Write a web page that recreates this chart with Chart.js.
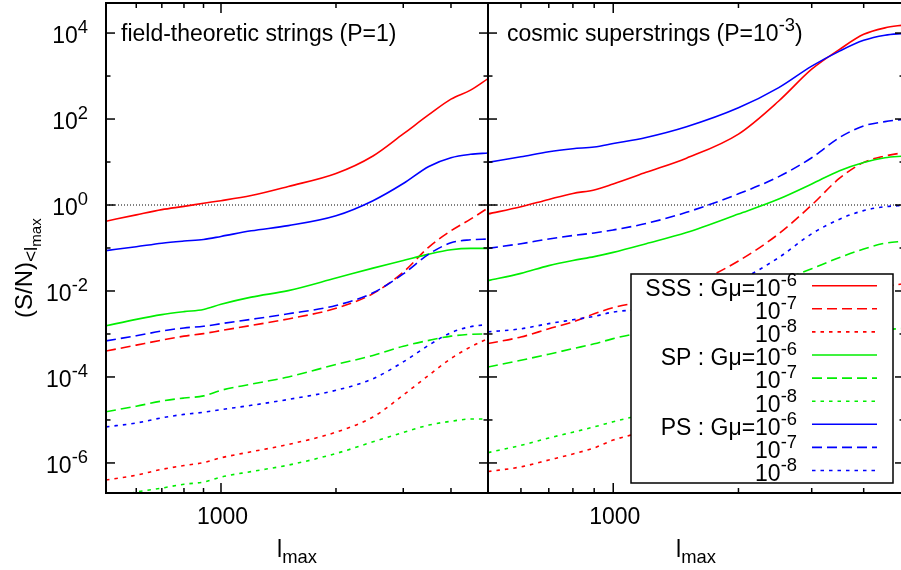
<!DOCTYPE html>
<html>
<head>
<meta charset="utf-8">
<script src="https://cdn.jsdelivr.net/npm/chart.js@4/dist/chart.umd.min.js"></script>
<style>
html, body { margin: 0; padding: 0; background: #fff; overflow: hidden; }
#wrap { position: relative; width: 901px; height: 570px; overflow: hidden; }
#wrap canvas { position: absolute; top: 0; }
</style>
</head>
<body>
<div id="wrap">
  <canvas id="left" width="490" height="570" style="left:0"></canvas>
  <canvas id="right" width="420" height="570" style="left:486px"></canvas>
</div>
<script>
// multipole cut-off l_max
ell = [500, 600, 700, 800, 900, 1000, 1200, 1500, 2000, 2500, 3000, 3500, 4000, 4500, 5000]

// field-theoretic strings (P=1)
ftSSS6 = [0.42, 0.59, 0.78, 0.93, 1.1, 1.26, 1.66, 2.7, 5.4, 13.8, 45, 126, 290, 470, 870]
ftSSS7 = [4.0e-4, 5.5e-4, 7.2e-4, 8.9e-4, 1.02e-3, 1.2e-3, 1.58e-3, 2.24e-3, 3.98e-3, 8.7e-3, 2.75e-2, 0.105, 0.251, 0.468, 0.851]
ftSSS8 = [4.0e-7, 5.2e-7, 7.1e-7, 8.7e-7, 1.02e-6, 1.32e-6, 1.82e-6, 2.69e-6, 5.2e-6, 1.17e-5, 3.8e-5, 1.1e-4, 2.69e-4, 5.0e-4, 7.8e-4]
ftSP6 = [1.55e-3, 2.19e-3, 2.82e-3, 3.31e-3, 3.72e-3, 4.9e-3, 7.2e-3, 1.02e-2, 2.0e-2, 3.4e-2, 5.1e-2, 7.2e-2, 9.1e-2, 9.8e-2, 9.8e-2]
ftSP7 = [1.55e-5, 2.09e-5, 2.75e-5, 3.24e-5, 3.63e-5, 4.9e-5, 6.8e-5, 1.0e-4, 1.95e-4, 3.16e-4, 5.2e-4, 7.1e-4, 8.9e-4, 9.8e-4, 1.0e-3]
ftSP8 = [1.4e-7, 2.1e-7, 2.6e-7, 3.2e-7, 3.6e-7, 4.7e-7, 6.3e-7, 8.9e-7, 1.66e-6, 3.1e-6, 5.1e-6, 7.6e-6, 9.3e-6, 1.05e-5, 1.05e-5]
ftPS6 = [0.087, 0.107, 0.129, 0.145, 0.158, 0.186, 0.251, 0.331, 0.562, 1.26, 3.16, 7.9, 12.6, 15.1, 16.2]
ftPS7 = [6.9e-4, 9.1e-4, 1.17e-3, 1.38e-3, 1.51e-3, 1.74e-3, 2.19e-3, 2.95e-3, 4.6e-3, 9.1e-3, 2.5e-2, 7.2e-2, 0.132, 0.155, 0.162]
ftPS8 = [6.9e-6, 8.5e-6, 1.12e-5, 1.35e-5, 1.51e-5, 1.74e-5, 2.19e-5, 3.0e-5, 4.9e-5, 9.1e-5, 2.24e-4, 5.5e-4, 1.07e-3, 1.48e-3, 1.66e-3]

// cosmic superstrings (P=10^-3)
csSSS6 = [0.62, 0.91, 1.35, 1.86, 2.24, 3.09, 5.75, 12.3, 44.7, 263, 1445, 4170, 9330, 13200, 15500]
csSSS7 = [6.0e-4, 8.5e-4, 1.32e-3, 1.91e-3, 2.95e-3, 4.1e-3, 6.0e-3, 1.23e-2, 5.0e-2, 0.214, 1.0, 4.2, 9.8, 13.8, 16.6]
csSSS8 = [6.3e-7, 8.1e-7, 1.17e-6, 1.62e-6, 2.24e-6, 3.4e-6, 5.6e-6, 1.26e-5, 6.3e-5, 4.0e-4, 1.58e-3, 4.5e-3, 8.9e-3, 1.26e-2, 1.48e-2]
csSP6 = [0.0174, 0.0257, 0.0389, 0.0513, 0.063, 0.079, 0.126, 0.229, 0.617, 1.38, 3.09, 6.3, 9.8, 12.6, 13.8]
csSP7 = [1.7e-4, 2.45e-4, 3.39e-4, 4.57e-4, 5.9e-4, 7.8e-4, 1.2e-3, 2.82e-3, 7.6e-3, 1.66e-2, 3.3e-2, 6.0e-2, 9.5e-2, 0.129, 0.145]
csSP8 = [1.74e-6, 2.57e-6, 3.8e-6, 5.2e-6, 6.9e-6, 9.1e-6, 1.41e-5, 2.82e-5, 8.9e-5, 2.51e-4, 5.6e-4, 8.9e-4, 1.12e-3, 1.26e-3, 1.35e-3]
csPS6 = [9.8, 13.2, 17.4, 20.4, 22.4, 26.9, 37.2, 66, 182, 537, 1700, 3800, 6760, 8900, 9800]
csPS7 = [0.098, 0.126, 0.162, 0.195, 0.224, 0.263, 0.372, 0.676, 1.82, 4.57, 12.6, 37.2, 69, 87, 98]
csPS8 = [1.12e-3, 1.32e-3, 1.74e-3, 2.14e-3, 2.57e-3, 3.24e-3, 3.9e-3, 6.6e-3, 1.74e-2, 6.0e-2, 0.214, 0.468, 0.741, 0.912, 0.977]

// S/N = 1 guide
unityX = [500, 5000]
unityY = [1, 1]

// legend / series names
groups = ['SSS', 'SP', 'PS']
muExps = ['-6', '-7', '-8']

// ticks
yTickValues = [1e-6, 1e-5, 1e-4, 1e-3, 1e-2, 1e-1, 1, 1e1, 1e2, 1e3, 1e4]
yTickLabels = ['-6', '', '-4', '', '-2', '', '0', '', '2', '', '4']
xMajorTicks = [1000]
xTickLabels = ['1000']
xMinorTicks = [600, 700, 800, 900, 2000, 3000, 4000]

colors = {SSS: '#ff0000', SP: '#00ee00', PS: '#0000ff'}
dashes = [[], [10, 5], [3.5, 5]]
FONT = '"Liberation Sans", Arial, Helvetica, sans-serif'
BIG = 23
SUP = 18.4

function font(px) { return px + 'px ' + FONT }

// parts: [text, size, dy]
function richWidth(ctx, parts) {
  var w = 0
  parts.forEach(p => { ctx.font = font(p[1]); w += ctx.measureText(p[0]).width })
  return w
}
function drawRich(ctx, parts, x, y, align) {
  var cx = x
  if (align === 'right') cx = x - richWidth(ctx, parts)
  if (align === 'center') cx = x - richWidth(ctx, parts) / 2
  ctx.textAlign = 'left'
  ctx.textBaseline = 'alphabetic'
  parts.forEach(p => {
    ctx.font = font(p[1])
    ctx.fillText(p[0], cx, y + p[2])
    cx += ctx.measureText(p[0]).width
  })
}
function seg(ctx, x1, y1, x2, y2) {
  ctx.beginPath(); ctx.moveTo(x1, y1); ctx.lineTo(x2, y2); ctx.stroke()
}

framePlugin = {
  id: 'frame',
  afterDraw(chart, args, opts) {
    var ctx = chart.ctx, a = chart.chartArea
    var xs = chart.scales.x, ys = chart.scales.y
    ctx.save()
    ctx.strokeStyle = '#000'
    ctx.fillStyle = '#000'
    ctx.lineWidth = 1.5
    ctx.setLineDash([])
    yTickValues.forEach((v, i) => {
      var y = ys.getPixelForValue(v)
      var len = yTickLabels[i] ? 9 : 4.5
      seg(ctx, a.left, y, a.left + len, y)
      seg(ctx, a.right, y, a.right - len, y)
    })
    xMajorTicks.forEach(v => {
      var x = xs.getPixelForValue(v)
      seg(ctx, x, a.bottom, x, a.bottom - 10)
      seg(ctx, x, a.top, x, a.top + 10)
    })
    xMinorTicks.forEach(v => {
      var x = xs.getPixelForValue(v)
      seg(ctx, x, a.bottom, x, a.bottom - 5)
      seg(ctx, x, a.top, x, a.top + 5)
    })
    ctx.lineWidth = 2
    ctx.strokeRect(a.left, a.top, a.right - a.left, a.bottom - a.top)

    // x tick labels and title
    xMajorTicks.forEach((v, i) => {
      drawRich(ctx, [[xTickLabels[i], BIG, 0]], xs.getPixelForValue(v) + 1.5, 524, 'center')
    })
    drawRich(ctx, [['l', BIG, 0], ['max', SUP, 6]], (a.left + a.right) / 2, 557, 'center')

    if (opts.side === 'left') {
      yTickValues.forEach((v, i) => {
        if (!yTickLabels[i]) return
        drawRich(ctx, [['10', BIG, 0], [yTickLabels[i], SUP, -10]], 88, ys.getPixelForValue(v) + 10.4, 'right')
      })
      ctx.save()
      ctx.translate(32, 318)
      ctx.rotate(-Math.PI / 2)
      drawRich(ctx, [['(S/N)', 24, 0], ['<l', 19, 5], ['max', 15, 9]], 0, 0, 'left')
      ctx.restore()
      drawRich(ctx, [['field-theoretic strings (P=1)', BIG, 0]], a.left + 15, 40.5, 'left')
    } else {
      drawRich(ctx, [['cosmic superstrings (P=10', BIG, 0], ['-3', SUP, -10], [')', BIG, 0]], a.left + 19, 41, 'left')
      // key box
      var bx = 145, by = 274, bw = 262, bh = 209
      ctx.fillStyle = '#fff'
      ctx.fillRect(bx, by, bw, bh)
      ctx.strokeStyle = '#000'
      ctx.lineWidth = 1.5
      ctx.strokeRect(bx, by, bw, bh)
      var r = 0
      groups.forEach(g => {
        muExps.forEach((e, k) => {
          var y = 285.7 + r * 23.1
          var parts = k === 0 ? [[g + ' : G\u03bc=10', BIG, 0], [e, SUP, -10]] : [['10', BIG, 0], [e, SUP, -10]]
          ctx.fillStyle = '#000'
          drawRich(ctx, parts, 311, y + 10.3, 'right')
          ctx.strokeStyle = colors[g]
          ctx.lineWidth = 1.6
          ctx.setLineDash(dashes[k])
          seg(ctx, 326, y, 391, y)
          ctx.setLineDash([])
          r++
        })
      })
    }
    ctx.restore()
  }
}

function series(groupSets) {
  var out = []
  groups.forEach((g, gi) => {
    groupSets[gi].forEach((vals, k) => {
      out.push({
        data: ell.map((x, i) => ({x: x, y: vals[i]})),
        borderColor: colors[g],
        borderDash: dashes[k],
        borderWidth: 1.6,
        fill: false
      })
    })
  })
  out.unshift({
    data: unityX.map((x, i) => ({x: x, y: unityY[i]})),
    borderColor: '#000',
    borderDash: [1, 2],
    borderWidth: 1,
    tension: 0
  })
  out.forEach((d, i) => { d.order = -i })
  return out
}

function Drow(id, sets, side, pad) {
  return new Chart(document.getElementById(id), {
    type: 'line',
    data: {datasets: series(sets)},
    options: {
      responsive: false,
      animation: false,
      events: [],
      layout: {padding: pad},
      elements: {point: {radius: 0}, line: {cubicInterpolationMode: 'monotone'}},
      plugins: {legend: {display: false}, tooltip: {enabled: false}, frame: {side: side}},
      scales: {
        x: {type: 'logarithmic', min: 500, max: 5000, display: false},
        y: {type: 'logarithmic', min: 2e-7, max: 5e4, display: false}
      }
    },
    plugins: [framePlugin]
  })
}

Drow('left', [[ftSSS6, ftSSS7, ftSSS8], [ftSP6, ftSP7, ftSP8], [ftPS6, ftPS7, ftPS8]], 'left',
  {left: 106, right: 2, top: 3, bottom: 77})
Drow('right', [[csSSS6, csSSS7, csSSS8], [csSP6, csSP7, csSP8], [csPS6, csPS7, csPS8]], 'right',
  {left: 2, right: 2, top: 3, bottom: 77})
</script>
</body>
</html>
